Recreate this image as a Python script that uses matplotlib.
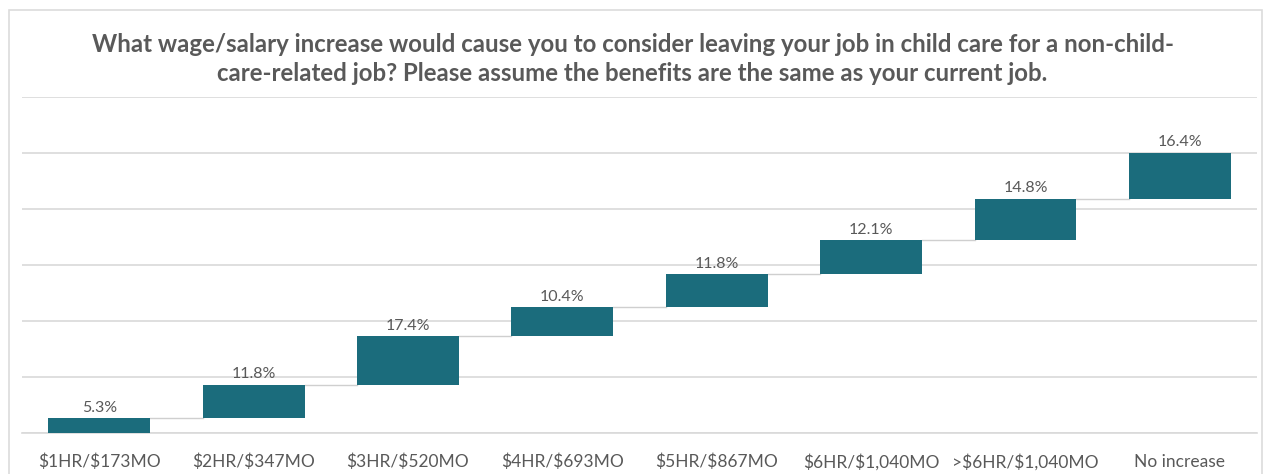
import matplotlib.pyplot as plt
import matplotlib.patches as mpatches
import numpy as np

categories = ["$1HR/$173MO", "$2HR/$347MO", "$3HR/$520MO", "$4HR/$693MO",
              "$5HR/$867MO", "$6HR/$1,040MO", ">$6HR/$1,040MO", "No increase"]
shares = [5.3, 11.8, 17.4, 10.4, 11.8, 12.1, 14.8, 16.4]

title = ("What wage/salary increase would cause you to consider leaving your job in child care for a non-child-\n"
         "care-related job? Please assume the benefits are the same as your current job.")

bar_colour = "#1b6c7c"
text_colour = "#595959"
grid_colour = "#d9d9d9"

plt.rcParams['font.family'] = ['Lato', 'DejaVu Sans']
plt.rcParams['text.parse_math'] = False

tops = np.cumsum(shares)
bottoms = tops - np.array(shares)
xs = np.arange(len(categories))

fig = plt.figure(figsize=(12.65, 4.74), dpi=100)
ax = fig.add_axes([0.0174, 0.0865, 0.9763, 0.7089])

ax.set_axisbelow(True)
ax.yaxis.grid(True, color=grid_colour, linewidth=1.2)
ax.set_yticks(np.arange(0, 121, 20))
ax.set_ylim(0, 120)
ax.set_xlim(-0.5, len(categories) - 0.5)

width = 0.66
ax.bar(xs, shares, bottom=bottoms, width=width, color=bar_colour, zorder=3)

# connectors between consecutive steps
for i in range(len(categories) - 1):
    ax.plot([xs[i] + width / 2, xs[i + 1] - width / 2], [tops[i], tops[i]],
            color="#cfcfcf", linewidth=1.0, zorder=2)

for x, top, val in zip(xs, tops, shares):
    ax.text(x, top + 1.3, f"{val:.1f}%", ha="center", va="bottom",
            fontsize=11.5, color=text_colour, zorder=4)

ax.set_xticks(xs)
ax.set_xticklabels(categories, fontsize=12.5, color=text_colour)
ax.tick_params(axis="x", length=0, pad=15)
ax.tick_params(axis="y", length=0, labelleft=False)
for side in ["left", "right", "top"]:
    ax.spines[side].set_visible(False)
ax.spines["bottom"].set_color(grid_colour)
ax.spines["bottom"].set_linewidth(1.2)

fig.text(0.5, 0.875, title, ha="center", va="center", fontsize=17.3,
         fontweight="bold", color=text_colour, linespacing=1.3)

# light frame round the chart
frame = mpatches.Rectangle((9 / 1265, -0.05), 1253 / 1265, 1 - 10 / 474 + 0.05,
                           transform=fig.transFigure, fill=False,
                           edgecolor="#dcdcdc", linewidth=1.2)
fig.patches.append(frame)

fig.savefig("out.png", dpi=100)
